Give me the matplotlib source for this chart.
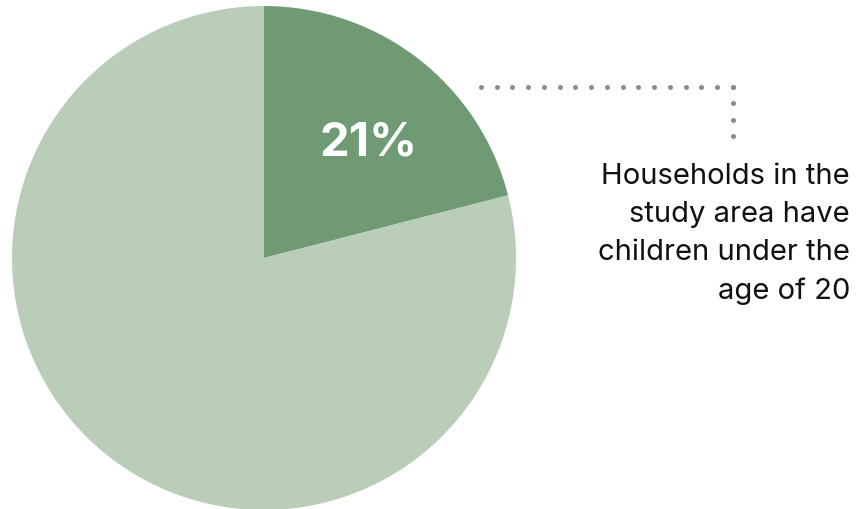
import numpy as np
import matplotlib.pyplot as plt

# data
shares = [21, 79]
labels = ["21%", ""]
colors = ["#6f9a74", "#b9cdb9"]
note = "Households in the\nstudy area have\nchildren under the\nage of 20"

W, H = 857, 509
DOT = "#8a8a90"

fig = plt.figure(figsize=(W / 100, H / 100), dpi=100)
ax = fig.add_axes([0, 0, 1, 1])

# pie in pixel coordinates (y measured from bottom)
cx, cy, r = 264, H - 258, 252
ax.pie(shares, colors=colors, startangle=90, counterclock=False,
       center=(cx, cy), radius=r, wedgeprops=dict(linewidth=0))

ax.text(369, H - 143, labels[0], color="white", fontsize=34,
        fontweight="bold", ha="center", va="center", family="Inter")

# dotted leader line
hx = np.linspace(481, 733, 17)
ax.plot(hx, np.full_like(hx, H - 87), "o", color=DOT, ms=3.6, mew=0)
vy = np.linspace(87, 136, 4)
ax.plot(np.full_like(vy, 733), H - vy, "o", color=DOT, ms=3.6, mew=0)

ax.text(850, H - 234, note, ha="right", va="center", fontsize=21,
        linespacing=1.52, color="#111111", family="Inter")

ax.set_xlim(0, W)
ax.set_ylim(0, H)
ax.set_aspect("auto")
ax.axis("off")

fig.savefig("out.png", dpi=100)
